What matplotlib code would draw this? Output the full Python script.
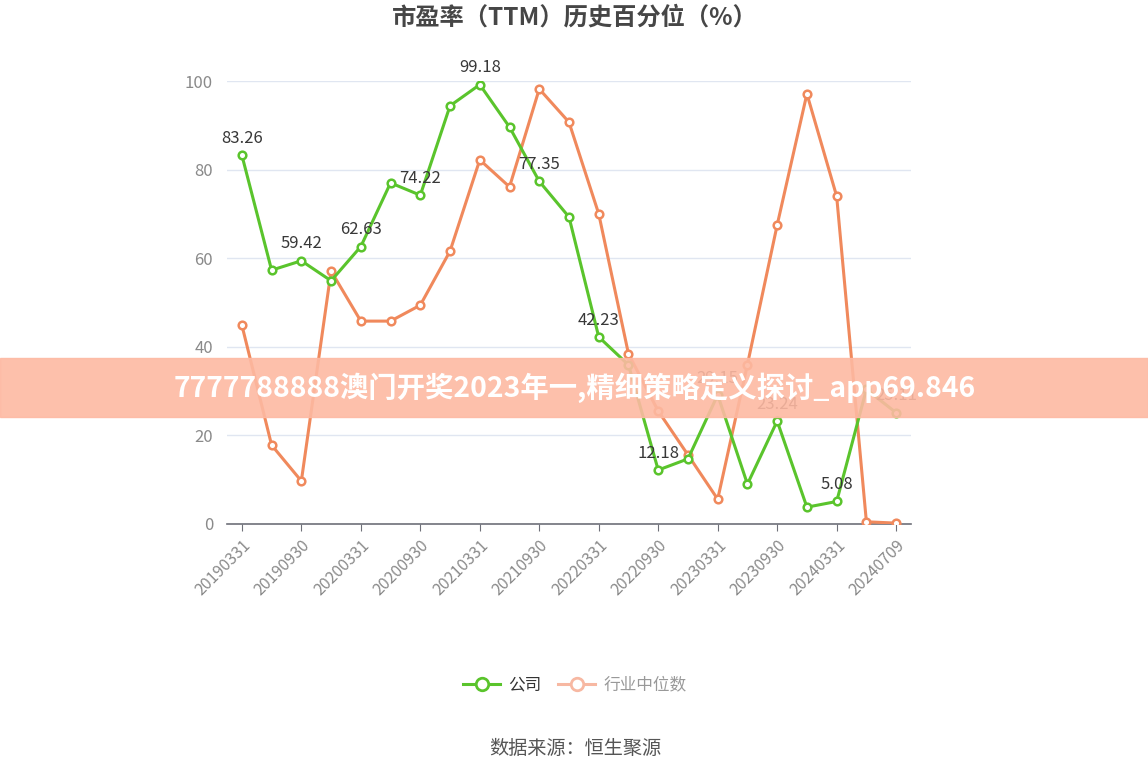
import numpy as np
import matplotlib.pyplot as plt
from matplotlib.lines import Line2D
from matplotlib.patches import Rectangle

plt.rcParams['font.family'] = ['Noto Sans CJK SC', 'DejaVu Sans']

# 报告期
dates = ['20190331', '20190630', '20190930', '20191231',
         '20200331', '20200630', '20200930', '20201231',
         '20210331', '20210630', '20210930', '20211231',
         '20220331', '20220630', '20220930', '20221231',
         '20230331', '20230630', '20230930', '20231231',
         '20240331', '20240630', '20240709']

# 公司 PE 历史百分位
company = [83.26, 57.3, 59.42, 54.9, 62.63, 77.0, 74.22, 94.4, 99.18, 89.6,
           77.35, 69.3, 42.23, 35.9, 12.18, 14.7, 29.15, 9.0, 23.24, 3.8,
           5.08, 30.4, 25.11]

# 行业中位数
industry = [44.9, 17.8, 9.7, 57.1, 45.8, 45.8, 49.4, 61.6, 82.2, 76.1,
            98.2, 90.7, 70.0, 38.4, 25.5, 15.6, 5.6, 36.0, 67.5, 97.1,
            74.0, 0.5, 0.2]

green = '#5ac42c'
orange = '#f0895c'

fig = plt.figure(figsize=(11.48, 7.76), dpi=100)
ax = fig.add_axes([227 / 1148, 1 - 524 / 776, 684 / 1148, 443 / 776])

x = np.arange(len(dates))
ax.plot(x, industry, color=orange, lw=2.2, marker='o', ms=5.5,
        mfc='white', mec=orange, mew=1.8, zorder=3)
ax.plot(x, company, color=green, lw=2.2, marker='o', ms=5.5,
        mfc='white', mec=green, mew=1.8, zorder=4)

# 每隔一个点标注数值
for i in range(0, len(company), 2):
    ax.annotate(f'{company[i]:.2f}', (x[i], company[i]), xytext=(0, 6),
                textcoords='offset points', ha='center', va='bottom',
                fontsize=12, color='#383838', zorder=5)

ax.set_xlim(-0.5, len(dates) - 0.5)
ax.set_ylim(0, 100)
ax.set_yticks([0, 20, 40, 60, 80, 100])
ax.set_xticks(x[::2])
ax.set_xticklabels(dates[::2], rotation=45, ha='right', rotation_mode='anchor')
ax.tick_params(axis='x', length=5, color='#6e7079', labelsize=11.5,
               labelcolor='#8a8a8a', pad=4)
ax.tick_params(axis='y', length=0, labelsize=12, labelcolor='#8a8a8a', pad=10)
ax.grid(axis='y', color='#e0e6f1', lw=1)
ax.set_axisbelow(True)
for s in ['top', 'right', 'left']:
    ax.spines[s].set_visible(False)
ax.spines['bottom'].set_color('#6e7079')
ax.spines['bottom'].set_linewidth(1.2)

fig.text(575 / 1148, 1 - 18 / 776, '市盈率（TTM）历史百分位（%）', ha='center',
         va='center', fontsize=17.5, fontweight='bold', color='#464646')

handles = [Line2D([], [], color=green, lw=2.2, marker='o', ms=9, mfc='white',
                  mec=green, mew=2),
           Line2D([], [], color='#f7b8a2', lw=2.2, marker='o', ms=9, mfc='white',
                  mec='#f7b8a2', mew=2)]
leg = fig.legend(handles, ['公司', '行业中位数'], loc='center',
                 bbox_to_anchor=(575 / 1148, 1 - 685 / 776), ncol=2, frameon=False,
                 fontsize=12, handlelength=2.2, columnspacing=1.0, handletextpad=0.5)
leg.get_texts()[0].set_color('#333333')
leg.get_texts()[1].set_color('#999999')

fig.text(575 / 1148, 1 - 748 / 776, '数据来源：恒生聚源', ha='center', va='center',
         fontsize=13.8, color='#555555')

# 横幅
fig.patches.append(Rectangle((0, 1 - 417 / 776), 1, 59 / 776, transform=fig.transFigure,
                             color='#fdb9a2', alpha=0.9, zorder=10))
fig.text(575 / 1148, 1 - 388 / 776, '7777788888澳门开奖2023年一,精细策略定义探讨_app69.846',
         ha='center', va='center', fontsize=20.4, fontweight='bold', color='white',
         zorder=11)

fig.savefig('out.png', dpi=100)
